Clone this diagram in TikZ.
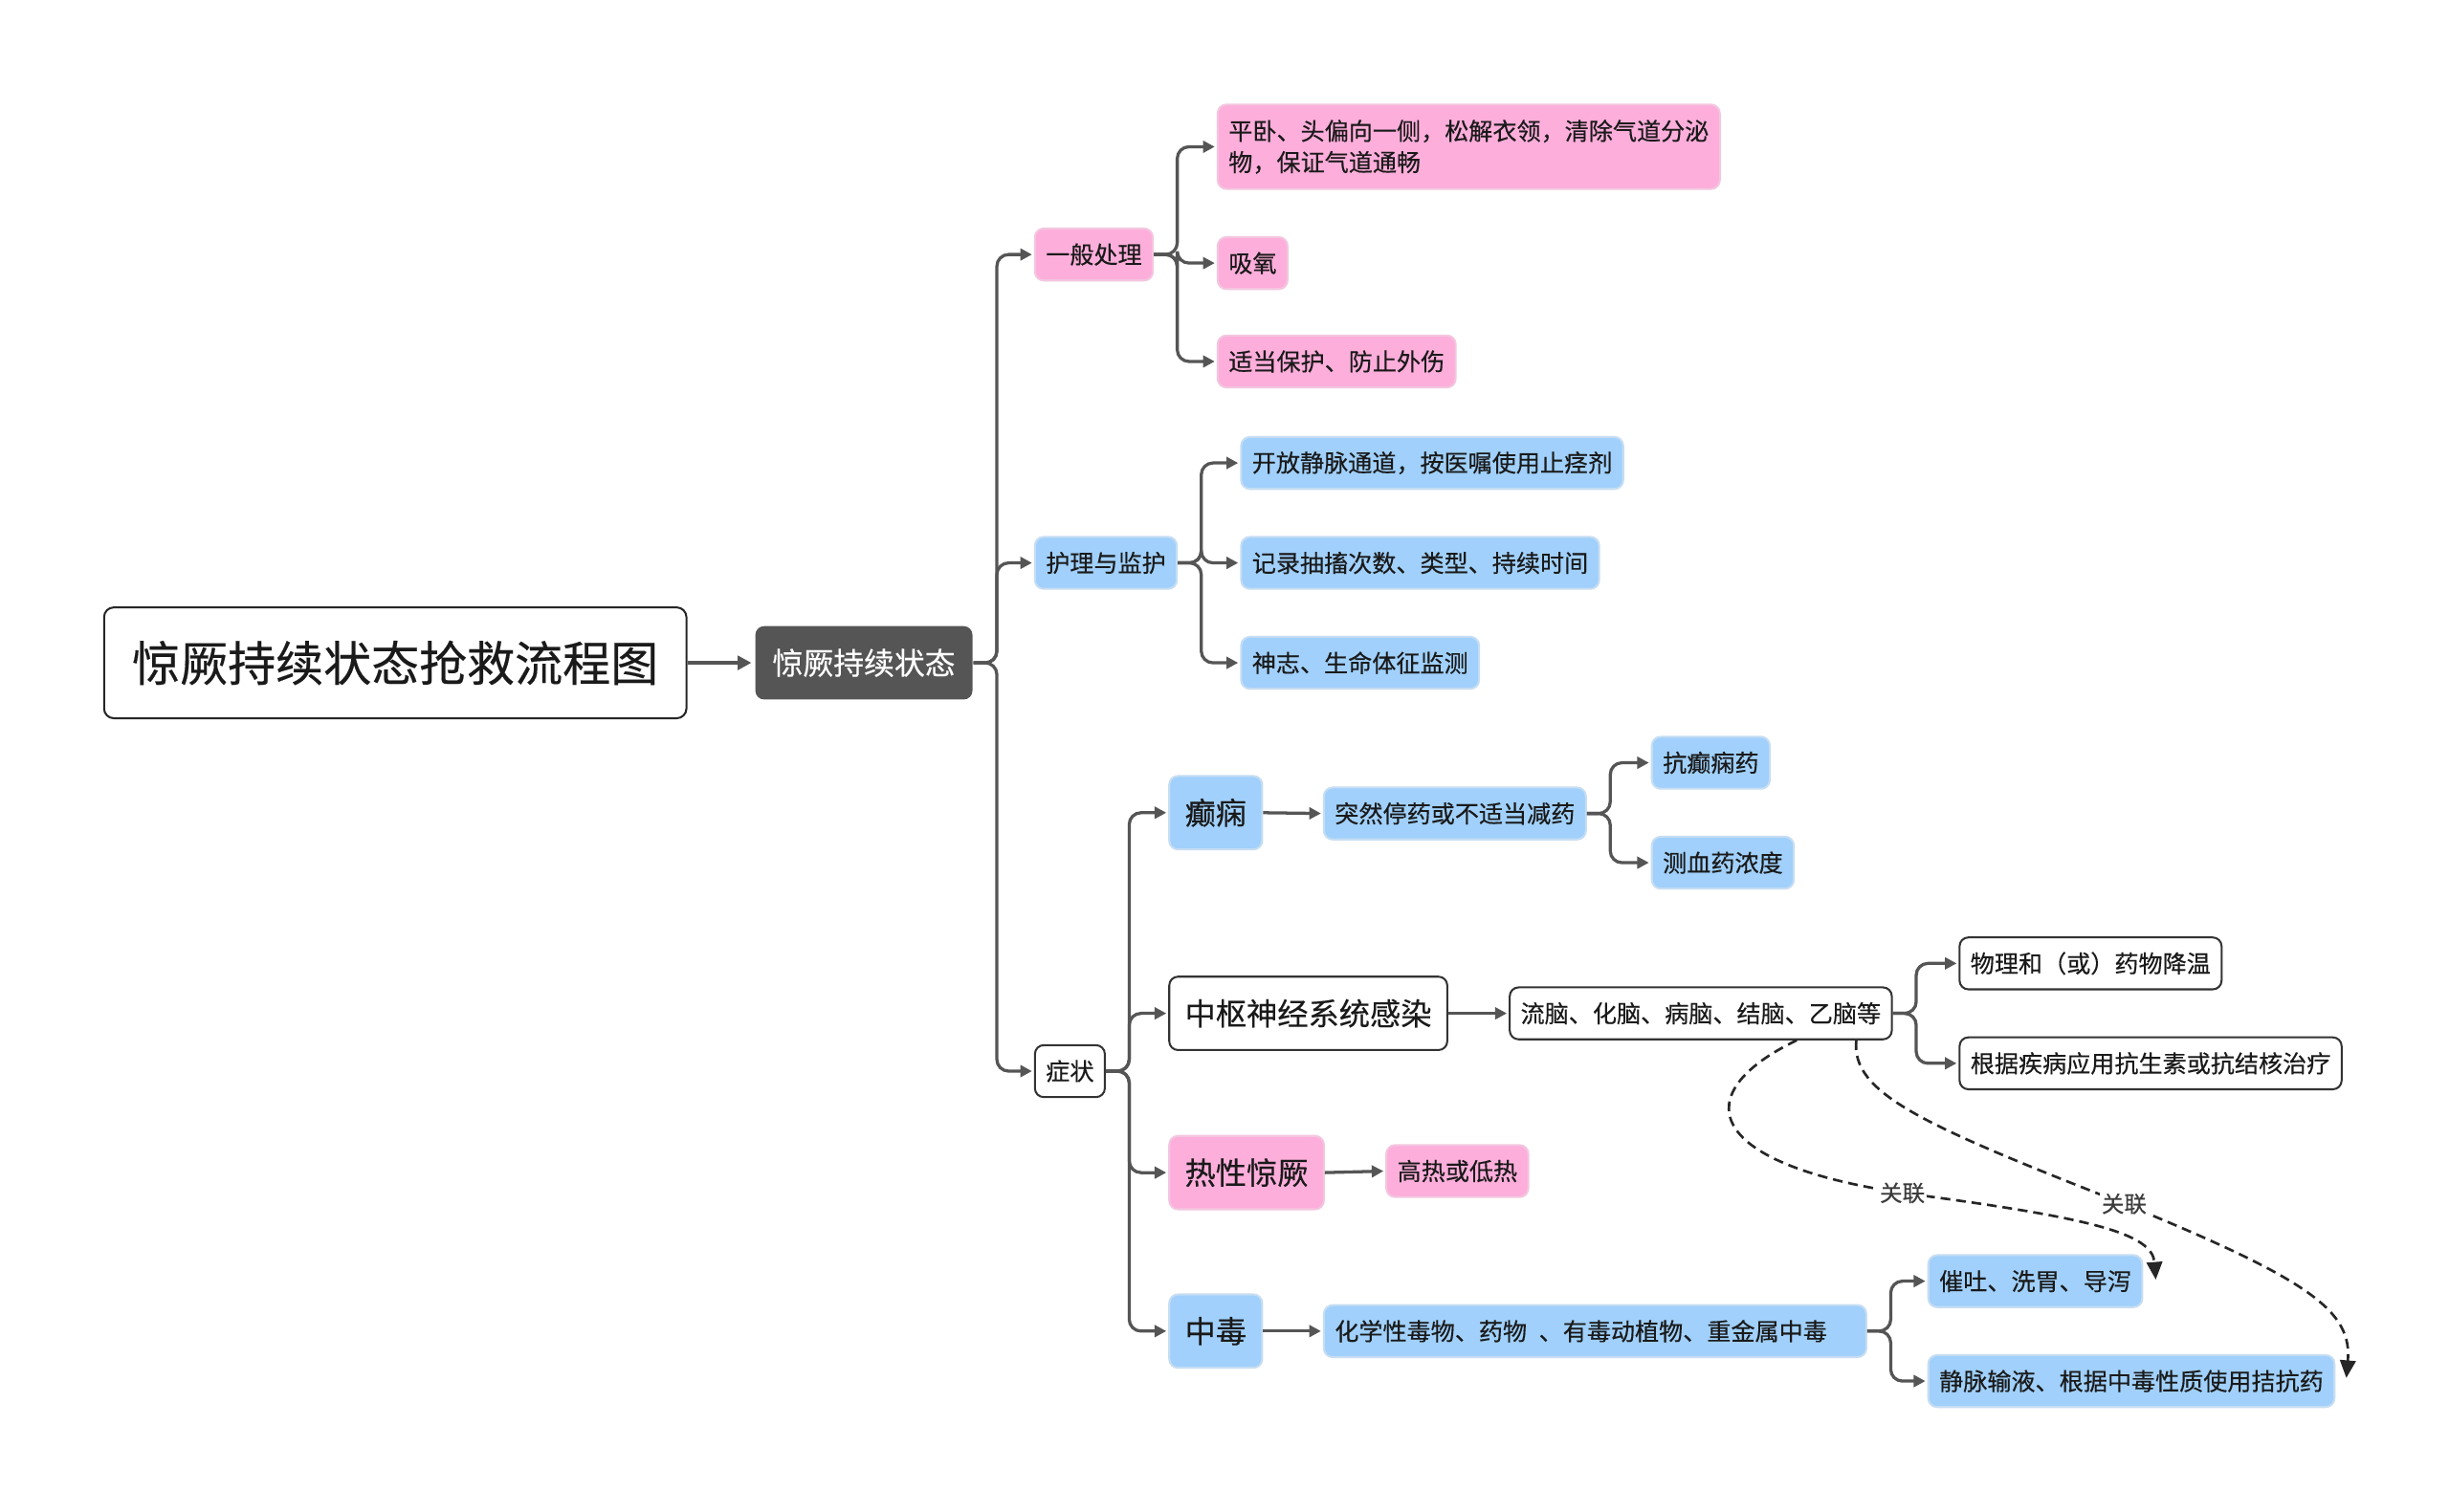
\documentclass[tikz,border=0pt]{standalone}
\usepackage{fontspec}
\newfontfamily\cjk[FakeBold=0.35]{Noto Sans CJK SC}
\usetikzlibrary{arrows.meta,calc}
\definecolor{pinkf}{HTML}{FDAEDB}
\definecolor{pinkd}{HTML}{F3C6DF}
\definecolor{bluef}{HTML}{A0D0FB}
\definecolor{blued}{HTML}{C6DDF3}
\definecolor{linec}{HTML}{555555}
\definecolor{rootf}{HTML}{555555}
\definecolor{txt}{HTML}{1A1A1A}
\begin{document}
\begin{tikzpicture}[x=0.8pt,y=-0.8pt,
 box/.style={rounded corners=4.5pt, inner xsep=5.6pt, inner ysep=0pt, anchor=west, minimum height=26.6pt, line width=1pt, text=txt, font=\cjk\fontsize{12.3}{16}\selectfont},
 pinkbox/.style={box, fill=pinkf, draw=pinkd},
 bluebox/.style={box, fill=bluef, draw=blued},
 whitebox/.style={box, fill=white, draw=black!80},
 big/.style={minimum height=37.6pt, inner xsep=8pt, font=\cjk\fontsize{15.8}{19}\selectfont},
 conn/.style={draw=linec, line width=1.6pt, rounded corners=6pt, -{Triangle[length=6pt,width=6pt]}, shorten >=1pt},
 rel/.style={draw=black!85, line width=1.3pt, dash pattern=on 5pt off 3pt, -{Triangle[length=9pt,width=8pt]}},
 rellab/.style={fill=white, inner sep=1pt, text=txt!85, font=\cjk\fontsize{11.5}{13}\selectfont}
]
\fill[white] (0,0) rectangle (1568,968);
\useasboundingbox (0,0) rectangle (1568,968);

% title and root
\node[box, fill=white, draw=black!85, minimum height=56.8pt, inner xsep=14.4pt, rounded corners=5pt, font=\cjk\fontsize{24.5}{28}\selectfont] (title) at (66,424.5) {惊厥持续状态抢救流程图};
\node[box, big, fill=rootf, text=white, inner xsep=8.8pt, font=\cjk\fontsize{15.6}{19}\selectfont] (root) at (483,424.5) {惊厥持续状态};
\draw[draw=linec, line width=2pt, -{Triangle[length=7pt,width=7pt]}, shorten >=1.5pt] (title.east) -- (root.west);

% level 1
\node[pinkbox] (g1) at (662,163) {一般处理};
\node[bluebox] (g2) at (662,360.5) {护理与监护};
\node[whitebox] (g3) at (662,686) {症状};

% general
\node[pinkbox, minimum height=43.2pt, align=left] (g1a) at (779,94) {平卧、头偏向一侧，松解衣领，清除气道分泌\\物，保证气道通畅};
\node[pinkbox] (g1b) at (779,168.5) {吸氧};
\node[pinkbox] (g1c) at (779,231.5) {适当保护、防止外伤};

% nursing
\node[bluebox] (g2a) at (794,296.5) {开放静脉通道，按医嘱使用止痉剂};
\node[bluebox] (g2b) at (794,360.5) {记录抽搐次数、类型、持续时间};
\node[bluebox] (g2c) at (794,424.5) {神志、生命体征监测};

% symptoms
\node[bluebox, big] (s1) at (748,520.5) {癫痫};
\node[bluebox] (s1a) at (847,521) {突然停药或不适当减药};
\node[bluebox] (s1a1) at (1057,488.5) {抗癫痫药};
\node[bluebox] (s1a2) at (1057,552.5) {测血药浓度};

\node[whitebox, big] (s2) at (748,649) {中枢神经系统感染};
\node[whitebox] (s2a) at (966,649) {流脑、化脑、病脑、结脑、乙脑等};
\node[whitebox] (s2a1) at (1254,617) {物理和（或）药物降温};
\node[whitebox] (s2a2) at (1254,681) {根据疾病应用抗生素或抗结核治疗};

\node[pinkbox, big] (s3) at (748,751) {热性惊厥};
\node[pinkbox] (s3a) at (887,750) {高热或低热};

\node[bluebox, big] (s4) at (748,852.5) {中毒};
\node[bluebox] (s4a) at (847,852.5) {化学性毒物、药物\hspace{0.5em}、有毒动植物、重金属中毒\rule{14.5pt}{0pt}};
\node[bluebox] (s4a1) at (1234,820.5) {催吐、洗胃、导泻};
\node[bluebox] (s4a2) at (1234,884.5) {静脉输液、根据中毒性质使用拮抗药};

% connectors
\foreach \t in {g1,g2,g3} \draw[conn] (root.east) -- ++(15,0) |- (\t.west);
\foreach \t in {g1a,g1b,g1c} \draw[conn] (g1.east) -- ++(15,0) |- (\t.west);
\foreach \t in {g2a,g2b,g2c} \draw[conn] (g2.east) -- ++(15,0) |- (\t.west);
\foreach \t in {s1,s2,s3,s4} \draw[conn] (g3.east) -- ++(15,0) |- (\t.west);
\foreach \t in {s1a1,s1a2} \draw[conn] (s1a.east) -- ++(15,0) |- (\t.west);
\foreach \t in {s2a1,s2a2} \draw[conn] (s2a.east) -- ++(15,0) |- (\t.west);
\foreach \t in {s4a1,s4a2} \draw[conn] (s4a.east) -- ++(15,0) |- (\t.west);
\draw[conn] (s1.east) -- (s1a.west);
\draw[conn] (s2.east) -- (s2a.west);
\draw[conn] (s3.east) -- (s3a.west);
\draw[conn] (s4.east) -- (s4a.west);

% relation curves
\coordinate (r1s) at ($(s2a.south west)!0.75!(s2a.south east)$);
\coordinate (r2s) at ($(s2a.south west)!0.905!(s2a.south east)$);
\coordinate (r1e) at ($(s4a1.east)+(8,-1)$);
\coordinate (r2e) at ($(s4a2.east)+(7,-2)$);
\draw[rel] (r1s) .. controls (1080,700) and (1090,745) .. (1218,764) node[rellab] {关联}
  .. controls (1340,780) and (1378,790) .. (r1e);
\draw[rel] (r2s) .. controls (1185,700) and (1230,720) .. (1360,771) node[rellab] {关联}
  .. controls (1480,820) and (1506,840) .. (r2e);
\end{tikzpicture}
\end{document}
